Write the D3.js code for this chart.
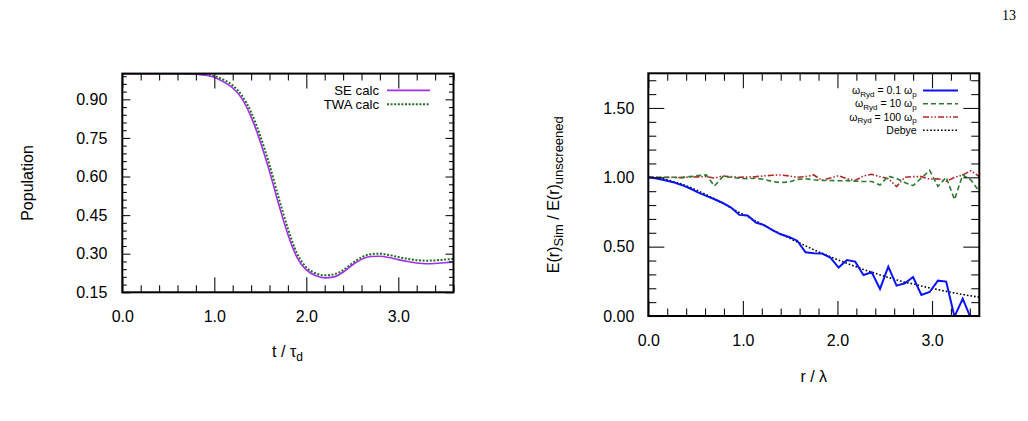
<!DOCTYPE html>
<html><head><meta charset="utf-8">
<script src="https://cdn.jsdelivr.net/npm/d3@7"></script>
<style>
html,body{margin:0;padding:0;background:#fff;}
svg{display:block;font-family:"Liberation Sans",Arial,Helvetica,sans-serif;}
</style></head>
<body>
<svg id="c" width="1028" height="421"></svg>
<script>
// ---------- Left panel data ----------
const tGrid = [0.0,0.1,0.2,0.3,0.4,0.5,0.6,0.7,0.8,0.9,1.0,1.1,1.2,1.3,1.4,1.5,1.6,1.7,1.8,1.9,2.0,2.1,2.2,2.3,2.4,2.5,2.6,2.7,2.8,2.9,3.0,3.1,3.2,3.3,3.4,3.5,3.6];
const seCalc = [1.000,1.000,1.000,1.000,1.000,1.000,1.000,0.999,0.998,0.994,0.986,0.968,0.944,0.903,0.832,0.735,0.620,0.492,0.375,0.285,0.237,0.215,0.206,0.210,0.228,0.256,0.278,0.289,0.290,0.285,0.277,0.270,0.264,0.261,0.262,0.265,0.268];
const twaCalc = [1.000,1.000,1.000,1.000,1.000,1.000,1.000,1.000,0.999,0.996,0.990,0.976,0.954,0.915,0.850,0.757,0.645,0.517,0.397,0.300,0.247,0.224,0.216,0.220,0.236,0.263,0.286,0.298,0.300,0.295,0.287,0.280,0.275,0.273,0.274,0.277,0.280];
const leftXTicks = [0.0,1.0,2.0,3.0];
const leftYTicks = [0.15,0.30,0.45,0.60,0.75,0.90];

// ---------- Right panel data ----------
const rGrid = [0,0.0875,0.175,0.2625,0.35,0.4375,0.525,0.6125,0.7,0.7875,0.875,0.9625,1.05,1.1375,1.225,1.3125,1.4,1.4875,1.575,1.6625,1.75,1.8375,1.925,2.0125,2.1,2.1875,2.275,2.3625,2.45,2.5375,2.625,2.7125,2.8,2.8875,2.975,3.0625,3.15,3.2375,3.325,3.4125,3.5];
const ryd01 = [1.000,0.991,0.979,0.965,0.945,0.921,0.892,0.866,0.842,0.815,0.782,0.729,0.724,0.674,0.655,0.620,0.589,0.570,0.543,0.459,0.452,0.450,0.421,0.349,0.404,0.392,0.296,0.315,0.195,0.356,0.219,0.236,0.281,0.152,0.173,0.255,0.248,-0.005,0.125,-0.02,-0.10];
const ryd10 = [1.000,1.000,1.001,1.000,0.998,1.005,1.012,1.017,0.938,1.005,1.000,0.993,0.990,0.993,0.985,0.970,0.962,0.966,0.985,0.990,0.982,0.978,0.977,0.975,0.976,0.972,0.970,0.970,0.945,1.008,0.992,0.962,0.940,0.995,1.050,0.935,1.000,0.840,1.017,0.980,0.897];
const ryd100 = [1.000,1.000,0.999,1.000,0.998,1.002,1.003,1.005,0.995,1.010,1.005,1.000,1.002,1.005,1.010,1.015,1.017,1.010,1.000,1.005,1.017,0.978,0.995,1.012,0.990,0.977,1.010,1.022,1.005,0.990,0.933,1.000,1.005,1.005,0.986,0.990,0.970,1.000,1.017,1.048,1.005];
const debye = [1.000,0.9962,0.9861,0.9705,0.9513,0.9287,0.9027,0.8745,0.8442,0.8124,0.7795,0.7458,0.7174,0.6847,0.6530,0.6211,0.5918,0.5623,0.5337,0.5061,0.4779,0.4522,0.4270,0.4029,0.3796,0.3573,0.3360,0.3157,0.2963,0.2779,0.2604,0.2438,0.2311,0.2162,0.2028,0.1899,0.1777,0.1662,0.1553,0.1450,0.1359];
const rightXTicks = [0.0,1.0,2.0,3.0];
const rightYTicks = [0.00,0.50,1.00,1.50];

const svg = d3.select("#c");

function frameAxes(g, x, y, o) {
  const [x0,x1] = x.range(), [y1,y0] = y.range();
  g.append("g").attr("transform",`translate(0,${y1})`)
    .call(d3.axisBottom(x).tickValues(o.xMinor).tickSize(-o.xMin).tickFormat(""))
    .call(a=>a.select(".domain").remove());
  g.append("g").attr("transform",`translate(0,${y1})`)
    .call(d3.axisBottom(x).tickValues(o.xMajor).tickSize(-o.xMaj).tickPadding(o.xPad).tickFormat(d3.format(".1f")))
    .call(a=>a.select(".domain").remove());
  g.append("g").attr("transform",`translate(0,${y0})`)
    .call(d3.axisTop(x).tickValues(o.xMinor).tickSize(-o.xMin).tickFormat(""))
    .call(a=>a.select(".domain").remove());
  g.append("g").attr("transform",`translate(0,${y0})`)
    .call(d3.axisTop(x).tickValues(o.xMajor).tickSize(-o.xMaj).tickFormat(""))
    .call(a=>a.select(".domain").remove());
  g.append("g").attr("transform",`translate(${x0},0)`)
    .call(d3.axisLeft(y).tickValues(o.yMinor).tickSize(-o.yMin).tickFormat(""))
    .call(a=>a.select(".domain").remove());
  g.append("g").attr("transform",`translate(${x0},0)`)
    .call(d3.axisLeft(y).tickValues(o.yMajor).tickSize(-o.yMaj).tickPadding(o.yPad).tickFormat(d3.format(".2f")))
    .call(a=>a.select(".domain").remove());
  g.append("g").attr("transform",`translate(${x1},0)`)
    .call(d3.axisRight(y).tickValues(o.yMinor).tickSize(-o.yMin).tickFormat(""))
    .call(a=>a.select(".domain").remove());
  g.append("g").attr("transform",`translate(${x1},0)`)
    .call(d3.axisRight(y).tickValues(o.yMajor).tickSize(-o.yMaj).tickFormat(""))
    .call(a=>a.select(".domain").remove());
  g.selectAll(".tick line").attr("stroke","#111").attr("stroke-width",1.1);
  g.selectAll(".tick text").attr("font-family","Liberation Sans, Arial, sans-serif").attr("font-size",16).attr("fill","#000");
  g.append("rect").attr("x",x0).attr("y",y0).attr("width",x1-x0).attr("height",y1-y0)
    .attr("fill","none").attr("stroke","#000").attr("stroke-width",2);
}

// ================= LEFT PANEL =================
const xL = d3.scaleLinear().domain([0,3.6]).range([122.3,453.5]);
const yL = d3.scaleLinear().domain([0.15,1.0]).range([292.3,73.6]);
const gL = svg.append("g");
svg.append("clipPath").attr("id","clipL").append("rect")
  .attr("x",122.3).attr("y",73.6).attr("width",331.2).attr("height",218.7);
const lineL = d3.line().x(d=>xL(d[0])).y(d=>yL(d[1])).curve(d3.curveMonotoneX);
gL.append("path").datum(tGrid.map((t,i)=>[t,twaCalc[i]])).attr("clip-path","url(#clipL)")
  .attr("d",lineL).attr("fill","none").attr("stroke","#1f6e1f").attr("stroke-width",2).attr("stroke-dasharray","2,1.6");
gL.append("path").datum(tGrid.map((t,i)=>[t,seCalc[i]])).attr("clip-path","url(#clipL)")
  .attr("d",lineL).attr("fill","none").attr("stroke","#a030e8").attr("stroke-width",1.6);
frameAxes(gL, xL, yL, {
  xMajor:leftXTicks, xMinor:d3.range(0,3.61,0.2).filter(v=>Math.abs(v-Math.round(v))>1e-6),
  yMajor:leftYTicks, yMinor:d3.range(0.18,1.0,0.03).filter(v=>Math.abs(v/0.15-Math.round(v/0.15))>1e-6),
  xMaj:15, xMin:7, yMaj:8, yMin:4.5, xPad:18, yPad:15
});
// legend
const legL = [{t:"SE calc",c:"#a030e8",w:1.6,d:null,y:90.4},{t:"TWA calc",c:"#1f6e1f",w:2,d:"2,1.6",y:104.2}];
legL.forEach(e=>{
  gL.append("text").attr("x",379).attr("y",e.y+4.6).attr("text-anchor","end")
    .attr("font-size",13.2).text(e.t);
  gL.append("line").attr("x1",387).attr("x2",430).attr("y1",e.y).attr("y2",e.y)
    .attr("stroke",e.c).attr("stroke-width",e.w).attr("stroke-dasharray",e.d);
});
const tl = gL.append("text").attr("x",287.5).attr("y",356.5).attr("text-anchor","middle").attr("font-size",16);
tl.append("tspan").text("t / τ");
tl.append("tspan").attr("dy",4).attr("font-size",12).text("d");
gL.append("text").attr("transform","translate(33,183) rotate(-90)").attr("text-anchor","middle")
  .attr("font-size",16).text("Population");

// ================= RIGHT PANEL =================
const xR = d3.scaleLinear().domain([0,3.5]).range([648.3,979.3]);
const yR = d3.scaleLinear().domain([0,1.75]).range([316,73.3]);
const gR = svg.append("g");
svg.append("clipPath").attr("id","clipR").append("rect")
  .attr("x",648.3).attr("y",73.3).attr("width",331).attr("height",242.7);
const lineR = d3.line().x(d=>xR(d[0])).y(d=>yR(d[1]));
const lineS = d3.line().x(d=>xR(d[0])).y(d=>yR(d[1])).curve(d3.curveMonotoneX);
const seriesR = [
  {v:ryd100,c:"#b3282a",w:1.6,d:"6,2,1.5,2,1.5,2",ln:lineR},
  {v:ryd10,c:"#2e7b2e",w:1.6,d:"5,3",ln:lineR},
  {v:debye,c:"#000",w:1.6,d:"1.6,2",ln:lineS},
  {v:ryd01,c:"#0a14f5",w:2,d:null,ln:lineR}
];
seriesR.forEach(s=>{
  gR.append("path").datum(rGrid.map((r,i)=>[r,s.v[i]])).attr("clip-path","url(#clipR)")
    .attr("d",s.ln).attr("fill","none").attr("stroke",s.c).attr("stroke-width",s.w)
    .attr("stroke-dasharray",s.d).attr("stroke-linejoin","miter");
});
frameAxes(gR, xR, yR, {
  xMajor:rightXTicks, xMinor:d3.range(0,3.51,0.2).filter(v=>Math.abs(v-Math.round(v))>1e-6),
  yMajor:rightYTicks, yMinor:d3.range(0.1,1.75,0.1).filter(v=>Math.abs(v/0.5-Math.round(v/0.5))>1e-6),
  xMaj:15, xMin:7.5, yMaj:16, yMin:8, xPad:18.6, yPad:14
});
const legR = [
  {m:"= 0.1 ",c:"#0a14f5",w:2,d:null,y:90.6},
  {m:"= 10 ",c:"#2e7b2e",w:1.6,d:"5,3",y:103.8},
  {m:"= 100 ",c:"#b3282a",w:1.6,d:"6,2,1.5,2,1.5,2",y:117},
  {m:null,c:"#000",w:1.6,d:"1.6,2",y:130.2}
];
legR.forEach(e=>{
  const t = gR.append("text").attr("x",916.7).attr("y",e.y+3.6).attr("text-anchor","end").attr("font-size",10.5);
  if (e.m) {
    t.append("tspan").text("ω");
    t.append("tspan").attr("dy",2.5).attr("font-size",8).text("Ryd");
    t.append("tspan").attr("dy",-2.5).text(" " + e.m + "ω");
    t.append("tspan").attr("dy",2.5).attr("font-size",8).text("p");
  } else {
    t.text("Debye");
  }
  gR.append("line").attr("x1",923).attr("x2",958).attr("y1",e.y).attr("y2",e.y)
    .attr("stroke",e.c).attr("stroke-width",e.w).attr("stroke-dasharray",e.d);
});
gR.append("text").attr("x",813.8).attr("y",381.5).attr("text-anchor","middle").attr("font-size",16).text("r / λ");
const yt = gR.append("text").attr("transform","translate(559,194.7) rotate(-90)").attr("text-anchor","middle").attr("font-size",16);
yt.append("tspan").text("E(r)");
yt.append("tspan").attr("dy",4).attr("font-size",13).text("Sim");
yt.append("tspan").attr("dy",-4).text(" / E(r)");
yt.append("tspan").attr("dy",4).attr("font-size",13).text("unscreened");

svg.append("text").attr("x",1016).attr("y",20).attr("text-anchor","end")
  .attr("font-family","Liberation Serif, Times New Roman, serif").attr("font-size",14).text("13");
</script>
</body></html>
